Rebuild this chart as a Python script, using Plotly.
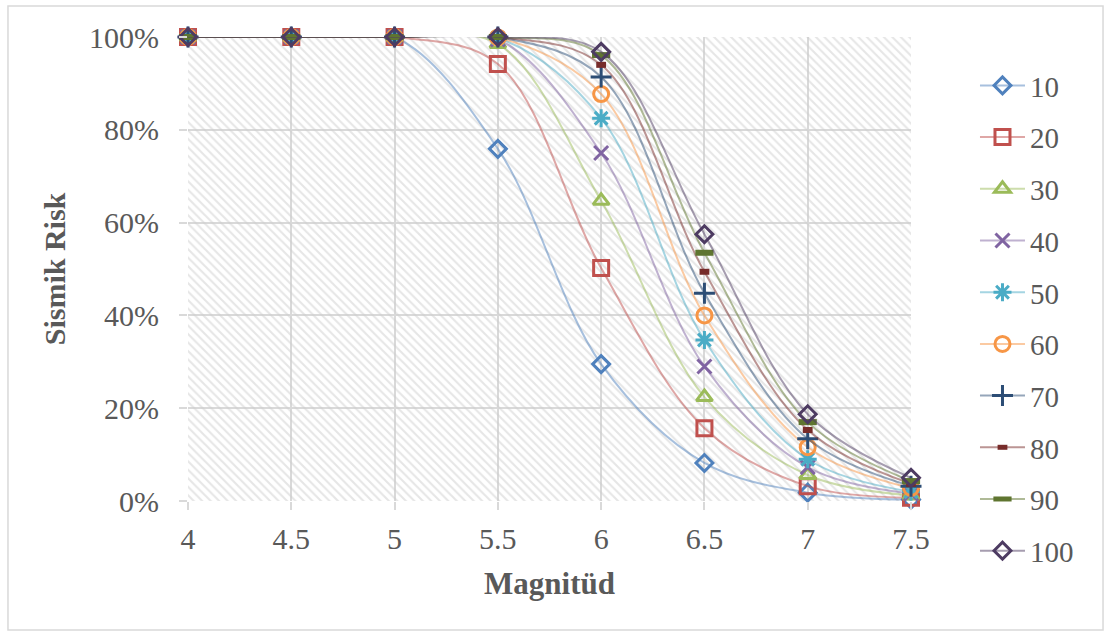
import plotly.graph_objects as go

magnitudes = [4, 4.5, 5, 5.5, 6, 6.5, 7, 7.5]
series_names = ["10", "20", "30", "40", "50", "60", "70", "80", "90", "100"]

risk_10 = [1, 1, 1, 0.759, 0.295, 0.082, 0.018, 0.003]
risk_20 = [1, 1, 1, 0.942, 0.502, 0.157, 0.032, 0.007]
risk_30 = [1, 1, 1, 0.985, 0.647, 0.224, 0.056, 0.012]
risk_40 = [1, 1, 1, 0.995, 0.750, 0.290, 0.073, 0.016]
risk_50 = [1, 1, 1, 0.998, 0.825, 0.347, 0.090, 0.020]
risk_60 = [1, 1, 1, 0.999, 0.877, 0.400, 0.116, 0.028]
risk_70 = [1, 1, 1, 1.0, 0.914, 0.448, 0.134, 0.032]
risk_80 = [1, 1, 1, 1.0, 0.940, 0.494, 0.153, 0.037]
risk_90 = [1, 1, 1, 1.0, 0.961, 0.535, 0.170, 0.043]
risk_100 = [1, 1, 1, 1.0, 0.968, 0.575, 0.187, 0.050]

all_series = [risk_10, risk_20, risk_30, risk_40, risk_50,
              risk_60, risk_70, risk_80, risk_90, risk_100]

colors = ["#4F81BD", "#C0504D", "#9BBB59", "#8064A2", "#4BACC6",
          "#F79646", "#2C4D75", "#772C2A", "#5F7530", "#4D3B62"]

symbols = ["diamond-open", "square-open", "triangle-up-open", "x-thin-open",
           "asterisk-open", "circle-open", "cross-thin-open", "line-ew-open",
           "line-ew-open", "diamond-open"]
sizes = [13, 15, 14, 14, 15, 15, 15, 7, 13, 13]
mlw = [3, 3, 3, 3, 3, 3, 3, 6, 6, 3]


def light(hex_color, a=0.5):
    h = hex_color.lstrip("#")
    r, g, b = int(h[0:2], 16), int(h[2:4], 16), int(h[4:6], 16)
    return f"rgba({r},{g},{b},{a})"


fig = go.Figure()

# hatched plot-area background
fig.add_trace(go.Scatter(
    x=[magnitudes[0], magnitudes[-1], magnitudes[-1], magnitudes[0], magnitudes[0]],
    y=[0, 0, 1, 1, 0],
    mode="lines", fill="toself", line=dict(width=0),
    fillcolor="rgba(0,0,0,0)",
    fillpattern=dict(shape="\\", fgcolor="#cdcdcd", size=6, solidity=0.35),
    hoverinfo="skip", showlegend=False,
))

for i, (name, vals) in enumerate(zip(series_names, all_series)):
    fig.add_trace(go.Scatter(
        x=magnitudes, y=vals, name=name, legendgroup=name,
        mode="lines+markers",
        line=dict(color=light(colors[i]), width=2, shape="spline", smoothing=1),
        marker=dict(symbol=symbols[i], size=sizes[i], color=colors[i],
                    line=dict(color=colors[i], width=mlw[i])),
        cliponaxis=False,
    ))

font_family = "Liberation Serif"

fig.update_layout(
    width=1105, height=632,
    margin=dict(l=188, r=194, t=37, b=131, autoexpand=False),
    paper_bgcolor="white", plot_bgcolor="white",
    font=dict(family=font_family, size=28, color="#595959"),
    showlegend=True,
    legend=dict(x=1.0885, xanchor="left", yref="container", y=0.905, yanchor="top",
                maxheight=1.0, itemwidth=45,
                font=dict(family=font_family, size=29, color="#595959"),
                tracegroupgap=11, bgcolor="rgba(0,0,0,0)"),
    xaxis=dict(range=[4, 7.5], tickvals=magnitudes,
               ticktext=[str(m) for m in magnitudes],
               showgrid=True, gridcolor="#d9d9d9", gridwidth=1.5,
               ticks="outside", ticklen=8, tickcolor="#d9d9d9", tickwidth=1.5,
               ticklabelstandoff=3,
               zeroline=False, showline=False, automargin=False,
               tickfont=dict(family=font_family, size=30, color="#595959"),
               title=dict(text="<b>Magnitüd</b>",
                          font=dict(family=font_family, size=31, color="#595959"),
                          standoff=18)),
    yaxis=dict(range=[0, 1], tickvals=[0, 0.2, 0.4, 0.6, 0.8, 1.0],
               tickformat=".0%",
               showgrid=True, gridcolor="#d9d9d9", gridwidth=1.5,
               ticks="outside", ticklen=8, tickcolor="#d9d9d9", tickwidth=1.5,
               ticklabelstandoff=14,
               zeroline=False, showline=False, automargin=False,
               tickfont=dict(family=font_family, size=30, color="#595959"),
               title=dict(text="<b>Sismik Risk</b>",
                          font=dict(family=font_family, size=30, color="#595959"),
                          standoff=14)),
    shapes=[dict(type="rect", xref="paper", yref="paper",
                 x0=-0.249, x1=1.2656, y0=-0.278, y1=1.0668,
                 line=dict(color="#d9d9d9", width=1.5), fillcolor="rgba(0,0,0,0)",
                 layer="below")],
)

fig.write_html("out.html")
